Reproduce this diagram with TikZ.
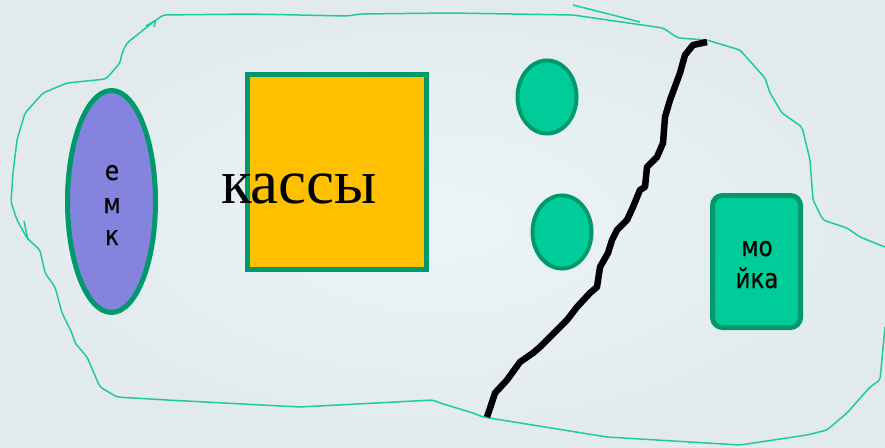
\documentclass[tikz,border=0pt]{standalone}
\usepackage{fontspec}
\setmainfont{Liberation Serif}
\newfontfamily\labelfont[FakeStretch=0.85,FakeBold=0.4]{DejaVu Sans}
\usetikzlibrary{shapes.geometric}
\definecolor{bgin}{HTML}{EBF5F7}
\definecolor{bgout}{HTML}{E2EAEE}
\definecolor{outl}{HTML}{1FCC96}
\definecolor{dgreen}{HTML}{00996B}
\definecolor{mint}{HTML}{00CC99}
\definecolor{purp}{HTML}{8484DE}
\definecolor{gold}{HTML}{FFC000}
\tikzset{
  outline/.style={draw=outl, line width=1.5, rounded corners=3, line join=round},
  roundshape/.style={ellipse, draw=dgreen, fill=mint, line width=4, inner sep=0, minimum width=59, minimum height=73},
  lbl/.style={font=\labelfont\fontsize{27}{32}\selectfont, inner sep=0, anchor=base},
  border/.style={line width=6.5, line join=round}
}
\begin{document}
\begin{tikzpicture}[x=1pt,y=-1pt]
\shade[inner color=bgin, outer color=bgout] (0,0) rectangle (885,447);
\useasboundingbox (0,0) rectangle (885,447);
% outline
\draw[outline] (885,247) -- (860,237) -- (847,228) -- (823,220) -- (813,200) -- (810,160) -- (802,127) -- (782,113) -- (770,93) -- (765,78) -- (740,50) -- (707,40) -- (678,38) -- (663,28) -- (573,15) -- (450,13) -- (360,14) -- (347,16) -- (250,14) -- (163,15) -- (152,23) -- (127,43) -- (122,53) -- (120,63) -- (106,79) -- (67,83) -- (43,93) -- (25,113) -- (17,140) -- (13,173) -- (11,202) -- (17,220) -- (27,238) -- (40,250) -- (45,273) -- (55,287) -- (62,313) -- (72,333) -- (75,343) -- (87,357) -- (100,387) -- (117,397) -- (167,400) -- (300,407) -- (433,400) -- (440,403) -- (473,413) -- (483,417) -- (607,437) -- (740,445) -- (807,435) -- (827,430) -- (847,413) -- (870,387) -- (880,380) -- (885,327);
\draw[outline] (573,5) -- (640,22);
\draw[outline] (146,26) -- (156,20) -- (154,27);
\draw[outline] (24,221) -- (28,240);
% emk
\node[ellipse, draw=dgreen, fill=purp, line width=5, inner sep=0, minimum width=88, minimum height=222] (emk) at (111.5,201.5) {};
\node[lbl] (e1) at (112,180) {е};
\node[lbl] (e2) at (112,213) {м};
\node[lbl] (e3) at (112,245) {к};
% kassy
\node[draw=dgreen, fill=gold, line width=5, inner sep=0, minimum width=179, minimum height=195] (kassa) at (337,172) {};
\node[anchor=base west, inner sep=0, font=\fontsize{63}{63}\selectfont] (kt) at (221,203) {кассы};
% circles
\node[roundshape] (c1) at (547,97) {};
\node[roundshape] (c2) at (562,232) {};
% border line
\draw[border] (707,42) -- (693,45) -- (685,55) -- (680,73) -- (670,100) -- (665,117) -- (663,143) -- (657,157) -- (647,167) -- (645,187) -- (640,190) -- (633,207) -- (627,220) -- (617,230) -- (612,240) -- (608,253) -- (600,267) -- (597,287) -- (590,293) -- (577,307) -- (567,320) -- (540,347) -- (533,353) -- (520,362) -- (507,380) -- (495,393) -- (487,417);
% moyka
\node[draw=dgreen, fill=mint, line width=5, rounded corners=10, inner sep=0, minimum width=88, minimum height=132] (moyka) at (756.5,261.5) {};
\node[lbl] (m1) at (757,256) {мо};
\node[lbl] (m2) at (757,288) {йка};
\end{tikzpicture}
\end{document}
